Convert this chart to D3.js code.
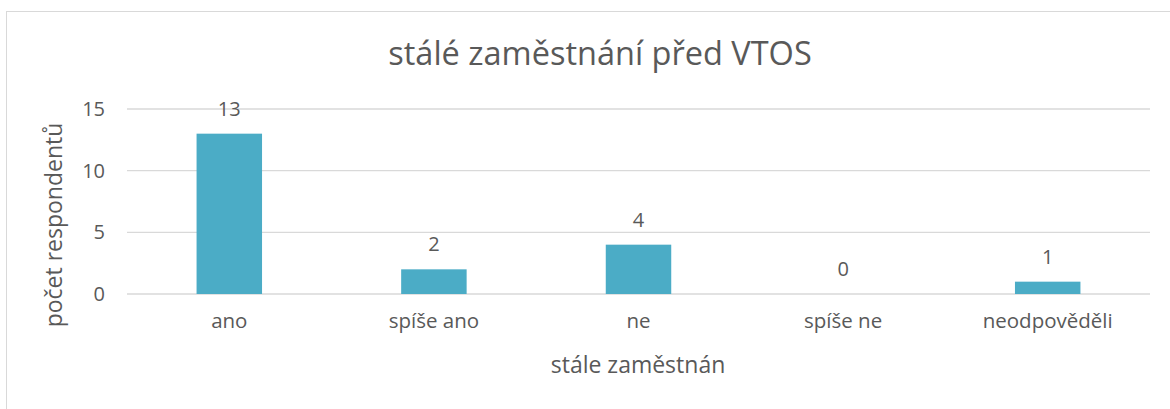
<!DOCTYPE html>
<html>
<head>
<meta charset="utf-8">
<script src="https://cdn.jsdelivr.net/npm/d3@7"></script>
<style>
  body { margin: 0; background: #fff; }
  text { font-family: "Open Sans", Lato, sans-serif; fill: #595959; }
</style>
</head>
<body>
<div id="chart"></div>
<script>
// data
var categories = ["ano", "spíše ano", "ne", "spíše ne", "neodpověděli"];
var counts = [13, 2, 4, 0, 1];
var yTicks = [0, 5, 10, 15];

var width = 1170, height = 409;
var margin = {left: 127, right: 20, top: 109, bottom: 115};
var fontFam = "'Open Sans', Lato, sans-serif";

var svg = d3.select("#chart")
  .append("svg")
    .attr("width", width)
    .attr("height", height);

// chart frame (right/bottom edges fall outside the picture)
svg.append("rect")
  .attr("x", 6.5).attr("y", 11.5)
  .attr("width", width + 20).attr("height", height + 20)
  .attr("fill", "none")
  .attr("stroke", "#d9d9d9");

var x = d3.scaleBand()
  .domain(categories)
  .range([margin.left, width - margin.right])
  .paddingInner(0.68)
  .paddingOuter(0.34);

var y = d3.scaleLinear()
  .domain([0, 15])
  .range([height - margin.bottom, margin.top]);

// gridlines
svg.append("g")
  .selectAll("line")
  .data(yTicks)
  .enter()
  .append("line")
    .attr("x1", margin.left)
    .attr("x2", width - margin.right)
    .attr("y1", function(d) { return y(d); })
    .attr("y2", function(d) { return y(d); })
    .attr("stroke", "#d9d9d9")
    .attr("stroke-width", 1.3);

// y axis labels
var yAxis = d3.axisLeft(y).tickValues(yTicks).tickSize(0).tickPadding(22);
svg.append("g")
  .attr("transform", "translate(" + margin.left + ",0)")
  .call(yAxis)
  .call(function(g) { g.select(".domain").remove(); })
  .selectAll("text")
    .style("font-family", fontFam)
    .style("font-size", "20px")
    .attr("fill", "#595959");

// x axis labels
var xAxis = d3.axisBottom(x).tickSize(0).tickPadding(19);
svg.append("g")
  .attr("transform", "translate(0," + y(0) + ")")
  .call(xAxis)
  .call(function(g) { g.select(".domain").remove(); })
  .selectAll("text")
    .style("font-family", fontFam)
    .style("font-size", "20.5px")
    .attr("fill", "#595959");

// bars
svg.append("g")
  .selectAll("rect")
  .data(counts)
  .enter()
  .append("rect")
    .attr("x", function(d, i) { return x(categories[i]); })
    .attr("y", function(d) { return y(d); })
    .attr("width", x.bandwidth())
    .attr("height", function(d) { return y(0) - y(d); })
    .attr("fill", "#4bacc6");

// value labels
svg.append("g")
  .selectAll("text")
  .data(counts)
  .enter()
  .append("text")
    .attr("x", function(d, i) { return x(categories[i]) + x.bandwidth() / 2; })
    .attr("y", function(d) { return y(d) - 18; })
    .attr("text-anchor", "middle")
    .style("font-size", "20px")
    .text(function(d) { return d; });

// title
svg.append("text")
  .attr("x", 600)
  .attr("y", 65)
  .attr("text-anchor", "middle")
  .style("font-size", "32.5px")
  .text("stálé zaměstnání před VTOS");

// axis titles
svg.append("text")
  .attr("transform", "translate(62,225) rotate(-90)")
  .attr("text-anchor", "middle")
  .style("font-size", "23px")
  .text("počet respondentů");

svg.append("text")
  .attr("x", 638)
  .attr("y", 373)
  .attr("text-anchor", "middle")
  .style("font-size", "23px")
  .text("stále zaměstnán");
</script>
</body>
</html>
